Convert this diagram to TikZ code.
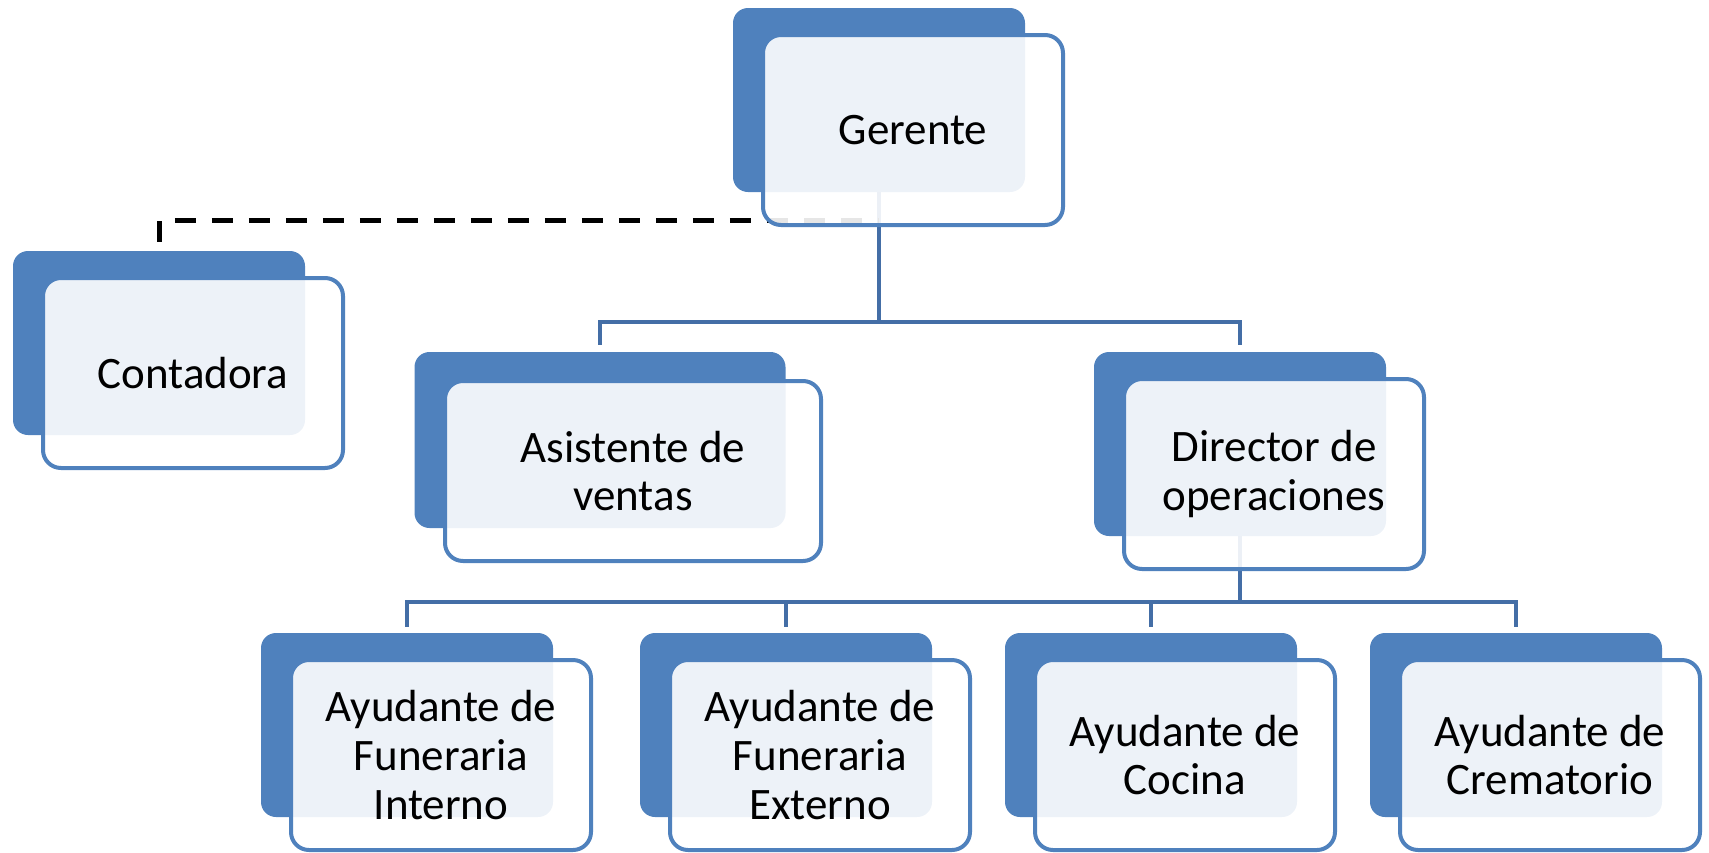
\documentclass[tikz,border=0pt]{standalone}
\usepackage{fontspec}
\setmainfont{Carlito}
\usetikzlibrary{calc}
\definecolor{accent}{RGB}{79,129,189}
\definecolor{linkblue}{RGB}{68,110,166}
\pgfdeclarelayer{background}
\pgfsetlayers{background,main}

\begin{document}
\begin{tikzpicture}[x=0.5pt, y=-0.5pt,
    back/.style={fill=accent, rounded corners=7.5pt, minimum width=146pt, minimum height=92pt, inner sep=0pt},
    front/.style={draw=accent, line width=2pt, fill=white, fill opacity=0.9, text opacity=1,
      rounded corners=9pt, minimum width=150pt, minimum height=95pt, inner sep=0pt,
      align=center, font=\fontsize{22.5}{24.4}\selectfont},
    link/.style={draw=linkblue, line width=2pt},
    dashlink/.style={draw=black, line width=2.5pt, dash pattern=on 10.5pt off 8pt}]
  \useasboundingbox (0,0) rectangle (1709,852);

  % top
  \node[back] (b-gerente) at (879,100) {};
  \node[front] (gerente) at ($(b-gerente)+(34,30)$) {Gerente};

  \node[back] (b-contadora) at (159,343) {};
  \node[front] (contadora) at ($(b-contadora)+(34,30)$) {Contadora};

  % second row
  \node[back, minimum width=185.5pt, minimum height=88pt] (b-asistente) at (600,440) {};
  \node[front, minimum width=188pt, minimum height=90pt] (asistente) at ($(b-asistente)+(33,31)$) {Asistente de\\ventas};

  \node[back] (b-director) at (1240,444) {};
  \node[front] (director) at ($(b-director)+(34,30)$) {Director de\\operaciones};

  % third row
  \node[back] (b-interno) at (407,725) {};
  \node[front] (interno) at ($(b-interno)+(34,30)$) {Ayudante de\\Funeraria\\Interno};

  \node[back] (b-externo) at (786,725) {};
  \node[front] (externo) at ($(b-externo)+(34,30)$) {Ayudante de\\Funeraria\\Externo};

  \node[back] (b-cocina) at (1151,725) {};
  \node[front] (cocina) at ($(b-cocina)+(34,30)$) {Ayudante de\\Cocina};

  \node[back] (b-crematorio) at (1516,725) {};
  \node[front] (crematorio) at ($(b-crematorio)+(34,30)$) {Ayudante de\\Crematorio};

  \begin{pgfonlayer}{background}
    \coordinate (topBus) at ($(b-gerente.south)+(0,130)$);
    \coordinate (dashJoint) at ($(b-gerente.south)+(0,28)$);
    \coordinate (dashEnd) at ($(b-contadora.north)+(0,-9)$);
    \coordinate (lowBus) at ($(b-director.south)+(0,66)$);

    \draw[link] (b-gerente.south) -- (topBus);
    \draw[link, shorten >=3.5pt] (topBus) -| (b-asistente.north);
    \draw[link, shorten >=3.5pt] (topBus) -| (b-director.north);
    \draw[dashlink] (dashEnd) |- (dashJoint);

    \draw[link] (b-director.south) -- (lowBus);
    \foreach \n in {interno, externo, cocina, crematorio}
      \draw[link, shorten >=3pt] (lowBus) -| (b-\n.north);
  \end{pgfonlayer}
\end{tikzpicture}
\end{document}
